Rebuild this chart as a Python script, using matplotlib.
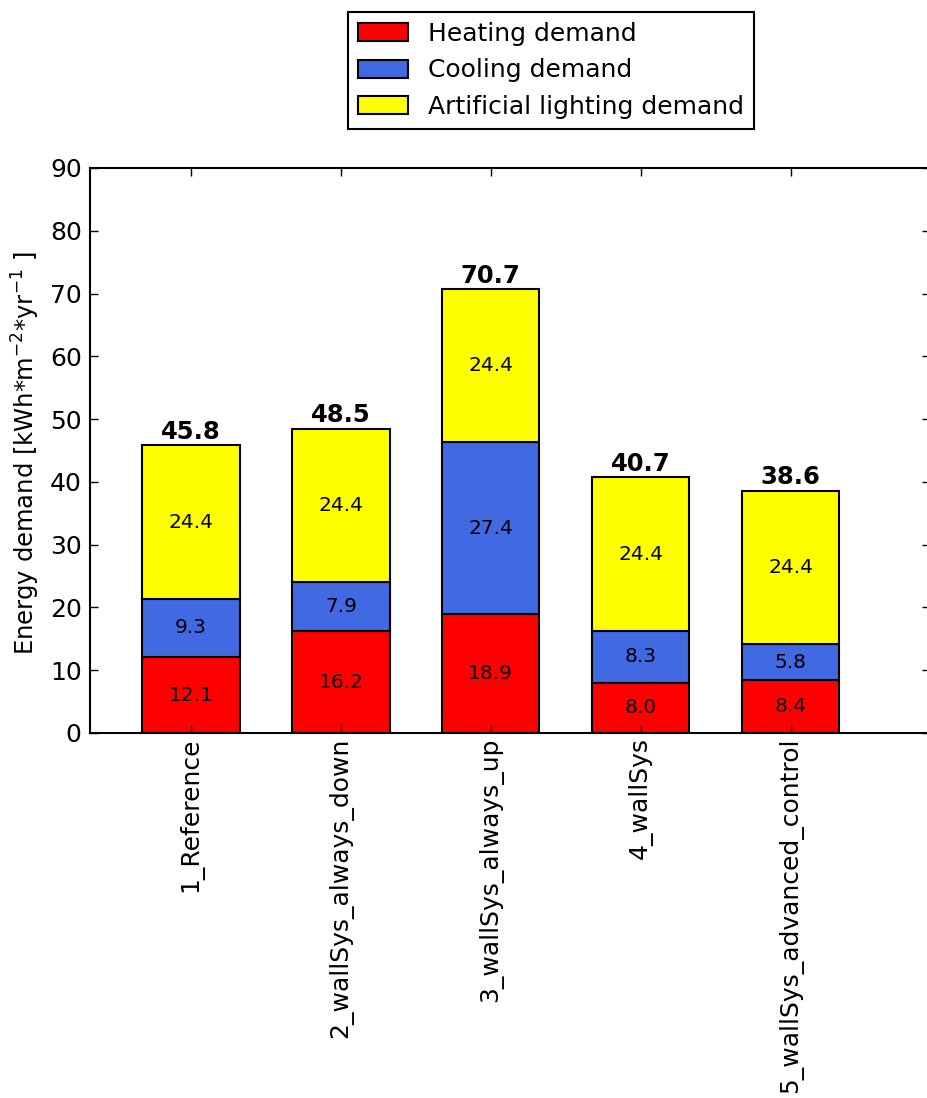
import matplotlib
matplotlib.use("Agg")
import matplotlib.pyplot as plt
import numpy as np

cases = ["1_Reference", "2_wallSys_always_down", "3_wallSys_always_up",
         "4_wallSys", "5_wallSys_advanced_control"]
heating = [12.1, 16.2, 18.9, 8.0, 8.4]
cooling = [9.3, 7.9, 27.4, 8.3, 5.8]
lighting = [24.4, 24.4, 24.4, 24.4, 24.4]

series_names = ["Heating demand", "Cooling demand", "Artificial lighting demand"]
series_colors = ["#ff0000", "#4169e1", "#ffff00"]

W, H = 927, 1098
fig = plt.figure(figsize=(W / 100, H / 100), dpi=100)
# axes box: left spine at x=90, right spine just off the picture, y 168..733
ax = fig.add_axes([90 / W, (H - 733) / H, 840 / W, 565 / H])

x = np.arange(len(cases))
width = 0.65
bottom = np.zeros(len(cases))
handles = []
for vals, name, col in zip([heating, cooling, lighting], series_names, series_colors):
    vals = np.array(vals)
    b = ax.bar(x, vals, width, bottom=bottom, color=col, edgecolor="black",
               linewidth=1.5, label=name)
    handles.append(b)
    for xi, v, b0 in zip(x, vals, bottom):
        ax.text(xi, b0 + v / 2, "%.1f" % v, ha="center", va="center", fontsize=14.5)
    bottom = bottom + vals

for xi, tot in zip(x, bottom):
    ax.text(xi, tot + 0.2, "%.1f" % tot, ha="center", va="bottom",
            fontsize=17.5, fontweight="bold")

ax.set_xlim(-0.673, 4.93)
ax.set_ylim(0, 90)
ax.set_yticks(np.arange(0, 91, 10))
ax.set_xticks(x)
ax.set_xticklabels(cases, rotation=90, fontsize=18)
ax.tick_params(axis="y", labelsize=18, pad=6)
ax.tick_params(axis="x", pad=3)
ax.tick_params(direction="in", length=6, width=1, top=True, right=True)
ax.set_ylabel("Energy demand [kWh*m$^{-2}$*yr$^{-1}$ ]", fontsize=17.5)
ax.yaxis.set_label_coords(-0.057, 0.495)
for s in ax.spines.values():
    s.set_linewidth(1.5)

leg = fig.legend(handles=handles, loc="upper center",
                 bbox_to_anchor=(551 / W, 1 - 12 / H), fontsize=18,
                 fancybox=False, framealpha=1, edgecolor="black", borderaxespad=0,
                 handlelength=2.0, handleheight=0.75, borderpad=0.4, labelspacing=0.5)
leg.get_frame().set_linewidth(1.5)

fig.savefig("out.png", dpi=100)
